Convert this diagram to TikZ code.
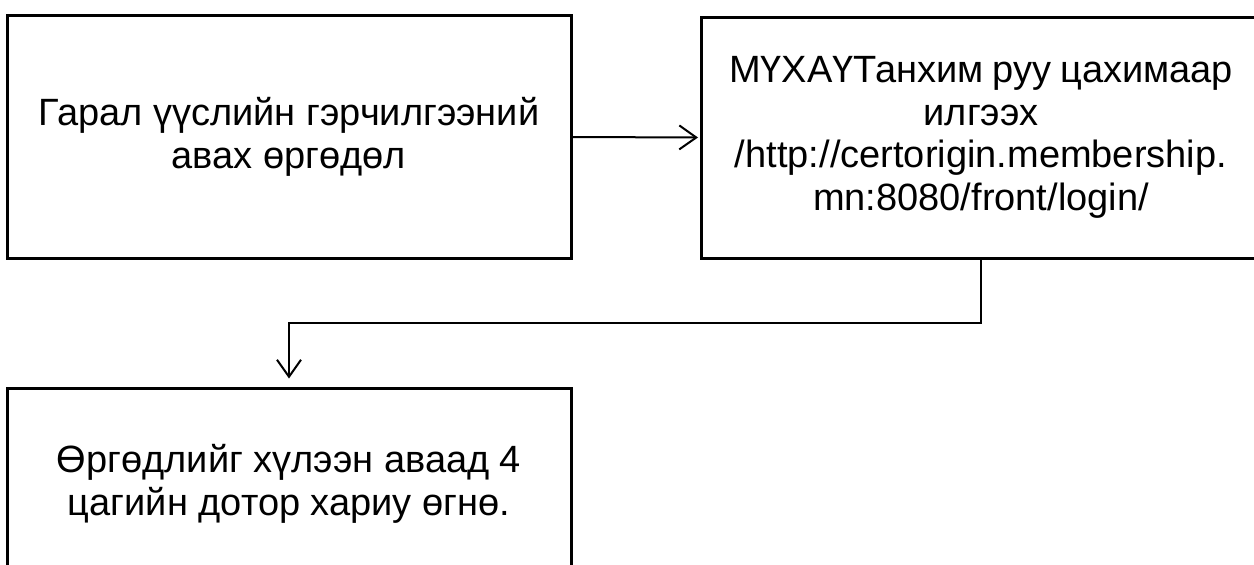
\documentclass[tikz,border=0pt]{standalone}
\usepackage{fontspec}
\setmainfont{Liberation Sans}
\usetikzlibrary{arrows.meta}
\tikzset{
  boxnode/.style={draw=black, line width=3pt, align=center, inner sep=0pt,
    font=\fontsize{38}{42.5}\selectfont, text=black},
  conn/.style={draw=black, line width=2pt},
  tip/.style={-{Straight Barb[length=17pt,width=24pt,line width=2pt]}}
}
\begin{document}
\begin{tikzpicture}[x=1pt,y=-1pt]
\useasboundingbox (0,0) rectangle (1254,565);
\clip (0,0) rectangle (1254,565);
\node[boxnode, minimum width=564pt, minimum height=243pt] (b1) at (289,137)
  {Гарал үүслийн гэрчилгээний\\авах өргөдөл};
\node[boxnode, minimum width=560pt, minimum height=241pt] (b2) at (981,137.5)
  {\hbox to 504pt{МҮХАҮТанхим\hfil\ руу\hfil\ цахимаар}\\илгээх\\/http://certorigin.membership.\\mn:8080/front/login/};
\node[boxnode, minimum width=564pt, minimum height=192pt] (b3) at (289,484)
  {Өргөдлийг хүлээн аваад 4\\цагийн дотор хариу өгнө.};
\coordinate (m) at (0,323);
\draw[conn, tip, shorten >=1.5pt] (b1.east) -- (b2.west);
\draw[conn, tip, shorten >=8pt] (b2.south) -- (b2.south |- m) -| (b3.north);
\end{tikzpicture}
\end{document}
